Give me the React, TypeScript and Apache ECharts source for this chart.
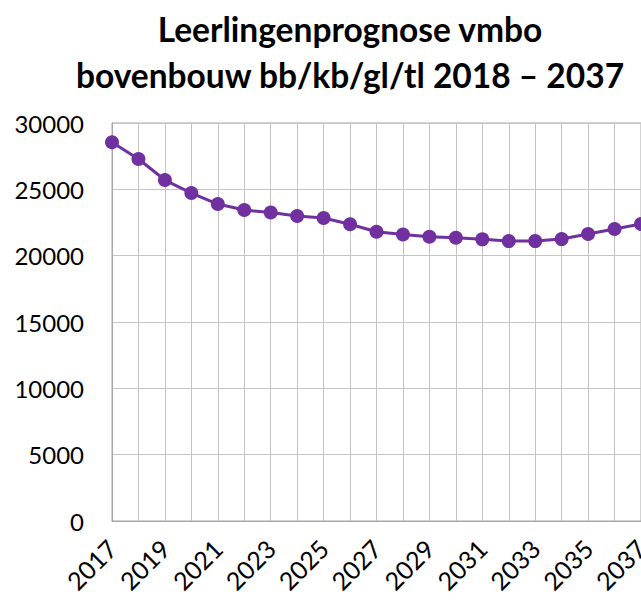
import React, { useEffect, useRef } from "react";
import * as echarts from "echarts";

const titleLines = ["Leerlingenprognose vmbo", "bovenbouw bb/kb/gl/tl 2018 – 2037"];
const years = [
  "2017", "2018", "2019", "2020", "2021", "2022", "2023", "2024", "2025", "2026",
  "2027", "2028", "2029", "2030", "2031", "2032", "2033", "2034", "2035", "2036", "2037",
];
const students = [
  28550, 27290, 25700, 24720, 23890, 23440, 23250, 22990, 22840, 22370,
  21800, 21600, 21430, 21350, 21230, 21100, 21100, 21250, 21630, 22010, 22390,
];
const yMin = 0;
const yMax = 30000;
const yStep = 5000;

export default function App() {
  const ref = useRef<HTMLDivElement>(null);
  useEffect(() => {
    if (!ref.current) return;
    const chart = echarts.init(ref.current, null, { renderer: "svg" });
    chart.setOption({
      animation: false,
      backgroundColor: "#ffffff",
      title: {
        text: titleLines.join("\n"),
        left: 345,
        top: 1,
        textAlign: "center",
        textStyle: {
          fontFamily: "Lato",
          fontWeight: "bold",
          fontSize: 33.5,
          lineHeight: 46,
          color: "#000000",
        },
      },
      grid: {
        left: 112,
        top: 123,
        right: 0,
        bottom: 80,
        outerBoundsMode: "none",
        containLabel: false,
        show: true,
        borderColor: "#a6a6a6",
        borderWidth: 1,
      },
      xAxis: {
        type: "category",
        data: years,
        boundaryGap: false,
        axisLine: { lineStyle: { color: "#a6a6a6", width: 1 } },
        axisTick: { show: false },
        splitLine: { show: true, interval: 0, lineStyle: { color: "#c4c4c4", width: 1 } },
        axisLabel: {
          interval: 1,
          rotate: 45,
          margin: 23,
          hideOverlap: false,
          fontFamily: "Lato",
          fontSize: 25,
          color: "#000000",
        },
      },
      yAxis: {
        type: "value",
        min: yMin,
        max: yMax,
        interval: yStep,
        axisLine: { show: true, lineStyle: { color: "#a6a6a6", width: 1 } },
        axisTick: { show: false },
        splitLine: { show: true, lineStyle: { color: "#c4c4c4", width: 1 } },
        axisLabel: {
          margin: 28,
          fontFamily: "Lato",
          fontSize: 24,
          color: "#000000",
          formatter: (v: number) => String(v),
        },
      },
      series: [
        {
          type: "line",
          data: students,
          symbol: "circle",
          symbolSize: 14,
          lineStyle: { color: "#7030a0", width: 3 },
          itemStyle: { color: "#7030a0" },
          clip: false,
        },
      ],
    });
    return () => chart.dispose();
  }, []);
  return (
    <div
      ref={ref}
      style={{ position: "absolute", left: 0, top: 0, width: 641, height: 601 }}
    />
  );
}
